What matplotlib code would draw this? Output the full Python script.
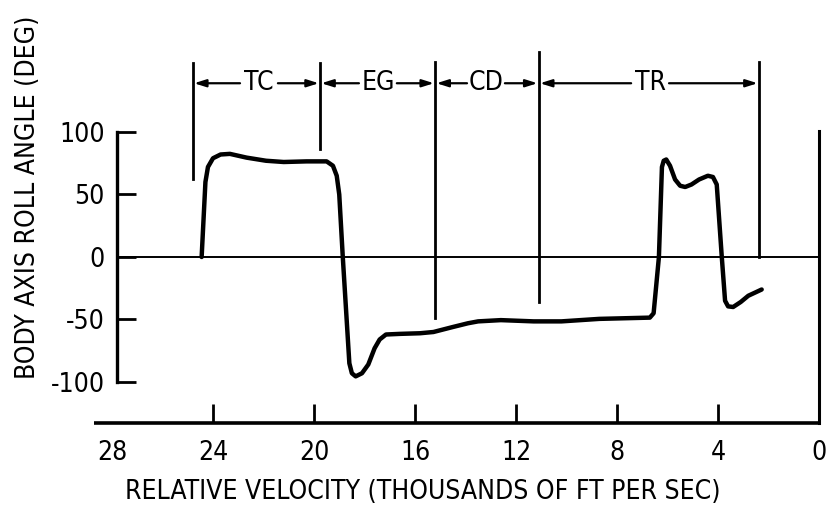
import matplotlib
matplotlib.use("Agg")
import matplotlib.pyplot as plt

plt.rcParams['font.family'] = ['DejaVu Sans']
plt.rcParams['font.stretch'] = 'condensed'

# roll angle history vs relative velocity (thousands of ft/s)
velocity = [24.45, 24.3, 24.2, 24.0, 23.7, 23.33, 22.67, 21.9, 21.2, 20.29,
            19.5, 19.25, 19.1, 19.0, 18.86, 18.6, 18.5, 18.35, 18.1, 17.85,
            17.6, 17.4, 17.15, 16.6, 15.8, 15.27, 14.5, 13.9, 13.5, 12.6,
            11.3, 10.2, 8.7, 6.7, 6.55, 6.34, 6.22, 6.15, 6.05, 5.9,
            5.7, 5.5, 5.3, 5.05, 4.75, 4.4, 4.2, 4.05, 3.85, 3.72,
            3.6, 3.4, 3.1, 2.8, 2.27]
roll_angle = [0, 60, 72, 79, 82, 82.5, 79.5, 77, 76, 76.5,
              76.5, 73, 65, 50, 0, -85, -93, -95.5, -93, -86,
              -73, -66, -62, -61.5, -61, -60, -56, -53, -51.5, -50.5,
              -51.5, -51.5, -49.5, -48.5, -45, 0, 72, 77, 78, 73,
              62, 57, 56, 58, 62, 65, 64, 58, 0, -35,
              -39.5, -40, -36, -31, -26]

x_ticks = [28, 24, 20, 16, 12, 8, 4, 0]
y_ticks = [100, 50, 0, -50, -100]

# flight phases: name, start/end velocity, label position
phase_names = ["TC", "EG", "CD", "TR"]
phase_bounds = [24.8, 19.76, 15.2, 11.1, 2.38]
phase_label_x = [22.18, 17.47, 13.19, 6.69]
# vertical extent of each boundary line (top, bottom)
bound_top = [155, 155, 156, 164, 156]
bound_bottom = [62, 86, -49, -36, 0]

fig = plt.figure(figsize=(8.38, 5.14), dpi=100)
ax = fig.add_axes([112 / 838, 1 - 423 / 514, (819 - 112) / 838, (423 - 40) / 514])

ymin, ymax = -132.8, 173.6
x_axis_left = 27.8
ax.set_xlim(28, 0)
ax.set_ylim(ymin, ymax)

ink = "black"
ax.plot(velocity, roll_angle, color=ink, lw=3.2, solid_joinstyle="round",
        solid_capstyle="round")
ax.plot([x_axis_left, 0], [0, 0], color=ink, lw=1.4)

# axes frame
for side in ["top", "right", "bottom"]:
    ax.spines[side].set_visible(False)
ax.spines["left"].set_position(("data", x_axis_left))
ax.spines["left"].set_bounds(-100, 100)
ax.spines["left"].set_linewidth(2.4)
ax.plot([28.7, 0], [ymin, ymin], color=ink, lw=2.6, clip_on=False,
        solid_capstyle="butt")
ax.plot([0, 0], [ymin, 101], color=ink, lw=2.2, clip_on=False)

ax.set_xticks(x_ticks)
ax.set_xticklabels([str(v) for v in x_ticks])
ax.set_yticks(y_ticks)
ax.set_yticklabels([str(v) for v in y_ticks])
ax.tick_params(axis="x", direction="in", length=14, width=2, pad=12,
               labelsize=19)
ax.tick_params(axis="y", direction="in", length=14, width=2, pad=9,
               labelsize=19)
xt = ax.xaxis.get_major_ticks()
for t in (xt[0], xt[-1]):
    t.tick1line.set_visible(False)

ax.set_xlabel("RELATIVE VELOCITY (THOUSANDS OF FT PER SEC)", fontsize=19)
ax.xaxis.set_label_coords(0.44, -0.145)
ax.set_ylabel("BODY AXIS ROLL ANGLE (DEG)", fontsize=19)
ax.yaxis.set_label_coords(-0.1, 0.59)

# phase boundaries and arrows
for xb, top, bot in zip(phase_bounds, bound_top, bound_bottom):
    ax.plot([xb, xb], [bot, top], color=ink, lw=2.0)

arrow_y = 139
arrow = dict(arrowstyle="-|>,head_length=0.7,head_width=0.22", color=ink,
             lw=1.6, shrinkA=0, shrinkB=0)
for i, name in enumerate(phase_names):
    left, right = phase_bounds[i], phase_bounds[i + 1]
    xc = phase_label_x[i]
    ax.text(xc, arrow_y, name, ha="center", va="center", fontsize=19)
    gap = 0.75
    ax.annotate("", xy=(left - 0.05, arrow_y), xytext=(xc + gap, arrow_y),
                arrowprops=arrow)
    ax.annotate("", xy=(right + 0.05, arrow_y), xytext=(xc - gap, arrow_y),
                arrowprops=arrow)

fig.savefig("out.png", dpi=100)
